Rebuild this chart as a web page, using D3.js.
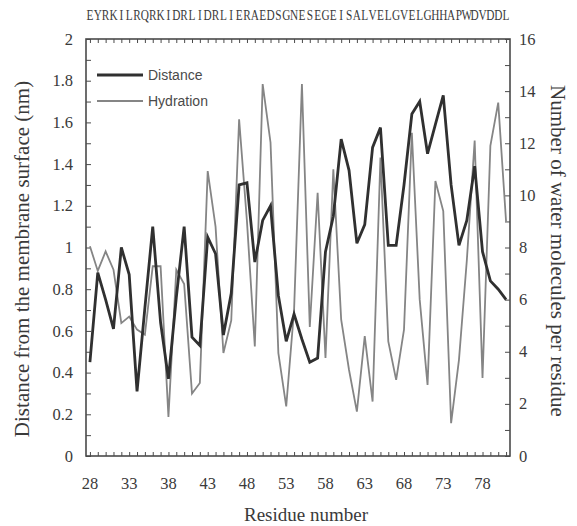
<!DOCTYPE html>
<html>
<head>
<meta charset="utf-8">
<script src="https://cdn.jsdelivr.net/npm/d3@7"></script>
<style>
  html, body { margin: 0; padding: 0; background: #ffffff; }
  svg { display: block; }
  text { font-family: "Liberation Serif", "Times New Roman", serif; fill: #3a3a3a; }
</style>
</head>
<body>
<svg id="chart" width="577" height="526"></svg>
<script>
// Peptide sequence, one letter per residue, starting at residue 28
const sequence = "EYRKILRQRKIDRLIDRLIERAEDSGNESEGEISALVELGVELGHHAPWDVDDL";
const firstResidue = 28;
const residues = sequence.split("").map((_, i) => firstResidue + i);

// Distance of each residue from the membrane surface (nm), left axis
const distance = [
  0.45, 0.88, 0.75, 0.61, 1.00, 0.87, 0.31, 0.71, 1.10, 0.64, 0.37, 0.76, 1.10, 0.57, 0.53,
  1.05, 0.97, 0.58, 0.78, 1.30, 1.31, 0.93, 1.13, 1.20, 0.77, 0.55, 0.68, 0.56, 0.45,
  0.47, 0.98, 1.15, 1.52, 1.37, 1.02, 1.11, 1.48, 1.575, 1.01, 1.01, 1.30, 1.64, 1.70,
  1.45, 1.59, 1.73, 1.30, 1.01, 1.13, 1.39, 0.98, 0.84, 0.80, 0.75
];

// Number of water molecules around each residue, right axis
const hydration = [
  8.05, 7.1, 7.85, 7.15, 5.1, 5.35, 4.85, 4.65, 7.28, 7.28, 1.5, 7.15, 6.6, 2.4, 2.8,
  10.93, 8.8, 3.95, 5.2, 12.92, 9.0, 4.2, 14.27, 12.03, 3.95, 1.9, 5.6, 14.27, 4.95,
  10.1, 3.76, 11.0, 5.23, 3.3, 1.7, 4.6, 2.09, 11.45, 4.4, 2.92, 4.85, 12.4, 6.0,
  2.73, 10.55, 9.4, 1.26, 3.69, 7.5, 12.1, 2.99, 11.9, 13.56, 9.0
];

const xTickLabels = [28, 33, 38, 43, 48, 53, 58, 63, 68, 73, 78];
const leftTickLabels = [0, 0.2, 0.4, 0.6, 0.8, 1, 1.2, 1.4, 1.6, 1.8, 2];
const rightTickLabels = [0, 2, 4, 6, 8, 10, 12, 14, 16];

const seriesNames = ["Distance", "Hydration"];

const svg = d3.select("#chart");
const plot = { left: 86, right: 510, top: 39, bottom: 456 };

const x = d3.scaleLinear()
  .domain([firstResidue - 0.5, residues[residues.length - 1] + 0.5])
  .range([plot.left, plot.right]);
const yL = d3.scaleLinear().domain([0, 2]).range([plot.bottom, plot.top]);
const yR = d3.scaleLinear().domain([0, 16]).range([plot.bottom, plot.top]);

const axisColor = "#4a4a4a";

// Minor/major ticks drawn inward on all four sides
const gB = svg.append("g").attr("transform", `translate(0,${plot.bottom})`)
  .call(d3.axisBottom(x).tickValues(residues).tickSize(-4).tickFormat(""));
const gT = svg.append("g").attr("transform", `translate(0,${plot.top})`)
  .call(d3.axisTop(x).tickValues(residues).tickSize(-4).tickFormat(""));
const gL = svg.append("g").attr("transform", `translate(${plot.left},0)`)
  .call(d3.axisLeft(yL).tickValues(d3.range(0, 21).map(i => i / 10)).tickSize(-5).tickFormat(""));
const gR = svg.append("g").attr("transform", `translate(${plot.right},0)`)
  .call(d3.axisRight(yR).tickValues(d3.range(0, 17)).tickSize(-5).tickFormat(""));
[gB, gT, gL, gR].forEach(g => {
  g.select(".domain").remove();
  g.selectAll(".tick line").attr("stroke", axisColor).attr("stroke-width", 1);
});

// Tick labels
svg.append("g").selectAll("text").data(xTickLabels).join("text")
  .attr("x", d => x(d)).attr("y", 489)
  .attr("text-anchor", "middle").attr("font-size", 16.5)
  .text(d => d);
svg.append("g").selectAll("text").data(leftTickLabels).join("text")
  .attr("x", 73).attr("y", d => yL(d)).attr("dy", "0.34em")
  .attr("text-anchor", "end").attr("font-size", 16.5)
  .text(d => d);
svg.append("g").selectAll("text").data(rightTickLabels).join("text")
  .attr("x", 519).attr("y", d => yR(d)).attr("dy", "0.34em")
  .attr("text-anchor", "start").attr("font-size", 16.5)
  .text(d => d);

// Frame
svg.append("rect")
  .attr("x", plot.left).attr("y", plot.top)
  .attr("width", plot.right - plot.left).attr("height", plot.bottom - plot.top)
  .attr("fill", "none").attr("stroke", axisColor).attr("stroke-width", 1.6);

// Series lines
const lineL = d3.line().x((d, i) => x(residues[i])).y(d => yL(d));
const lineR = d3.line().x((d, i) => x(residues[i])).y(d => yR(d));

svg.append("path").datum(hydration)
  .attr("d", lineR).attr("fill", "none")
  .attr("stroke", "#858585").attr("stroke-width", 1.8).attr("stroke-linejoin", "miter");
svg.append("path").datum(distance)
  .attr("d", lineL).attr("fill", "none")
  .attr("stroke", "#303030").attr("stroke-width", 2.8).attr("stroke-linejoin", "miter");

// Legend
const legend = svg.append("g");
const legendRows = [
  { name: seriesNames[0], y: 75, color: "#303030", width: 2.8 },
  { name: seriesNames[1], y: 101, color: "#858585", width: 1.8 }
];
legendRows.forEach(r => {
  legend.append("line").attr("x1", 97).attr("x2", 143).attr("y1", r.y).attr("y2", r.y)
    .attr("stroke", r.color).attr("stroke-width", r.width);
  legend.append("text").attr("x", 148).attr("y", r.y).attr("dy", "0.36em")
    .style("font-family", "'Liberation Sans', Arial, sans-serif")
    .attr("font-size", 14).style("fill", "#4a4a4a")
    .text(r.name);
});

// Residue sequence across the top, one letter above each residue position
const sx = 0.78;
svg.append("text")
  .attr("transform", `scale(${sx},1)`)
  .attr("y", 20)
  .attr("x", residues.map(r => (x(r) / sx).toFixed(2)).join(" "))
  .attr("text-anchor", "middle")
  .attr("font-size", 14.5)
  .text(sequence);

// Axis titles
svg.append("text")
  .attr("x", (plot.left + plot.right) / 2 + 8).attr("y", 521)
  .attr("text-anchor", "middle").attr("font-size", 19)
  .text("Residue number");
svg.append("text")
  .attr("transform", `translate(29,259) rotate(-90)`)
  .attr("text-anchor", "middle").attr("font-size", 21)
  .text("Distance from the membrane surface (nm)");
svg.append("text")
  .attr("transform", `translate(551,251) rotate(90)`)
  .attr("text-anchor", "middle").attr("font-size", 21)
  .text("Number of water molecules per residue");
</script>
</body>
</html>
